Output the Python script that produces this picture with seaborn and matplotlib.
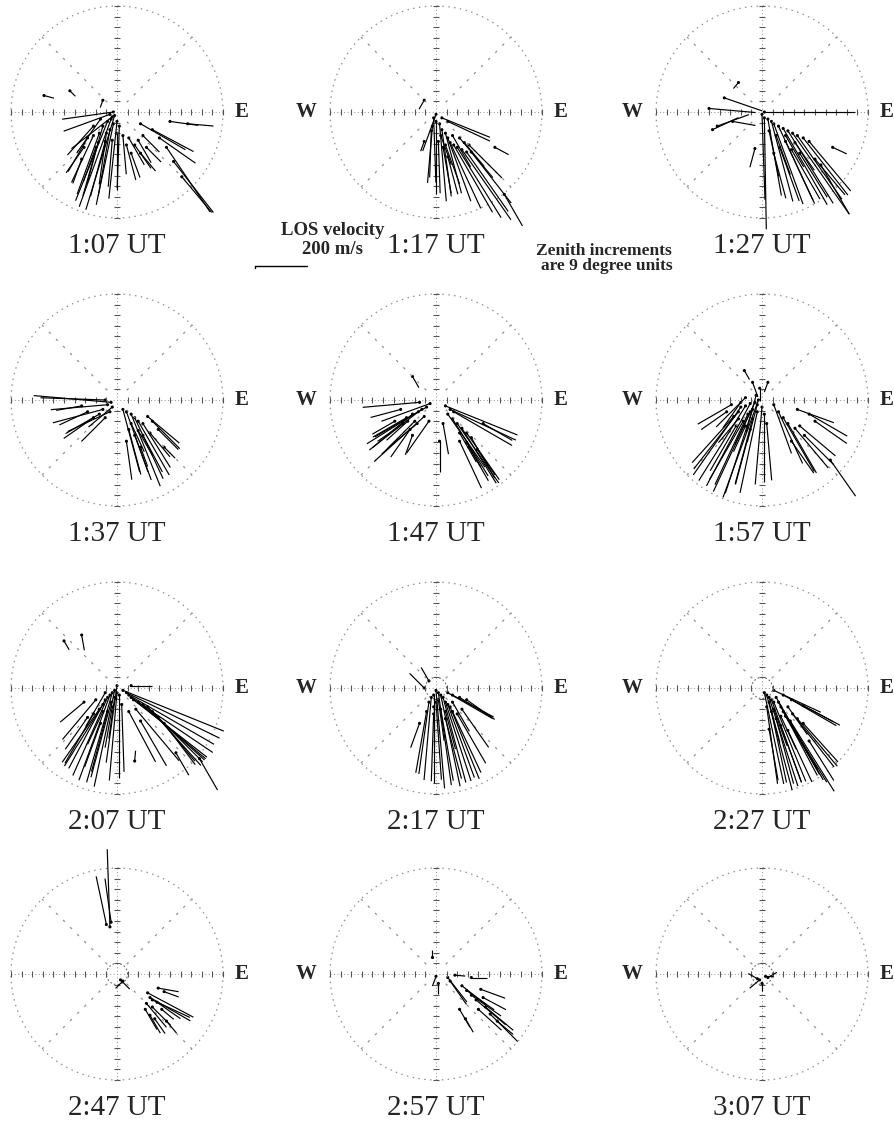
import numpy as np
import pandas as pd
import matplotlib
matplotlib.use("Agg")
import matplotlib.pyplot as plt
import seaborn as sns
from matplotlib.collections import LineCollection

# ---------------- data ----------------
# each vector: (x east [deg zenith], y north [deg zenith], LOS speed [m/s], bearing [deg from N, clockwise])
TIMES = ["1:07 UT", "1:17 UT", "1:27 UT",
         "1:37 UT", "1:47 UT", "1:57 UT",
         "2:07 UT", "2:17 UT", "2:27 UT",
         "2:47 UT", "2:57 UT", "3:07 UT"]

V0107 = [(-2, -3, 380, 197), (-5, -6, 360, 200), (-8, -8, 330, 202), (-3, -10, 320, 192),
         (0, -8, 300, 186), (-12, -12, 280, 196), (-15, -18, 250, 200), (-6, -15, 260, 190),
         (2, -12, 240, 182), (-20, -20, 200, 205), (-10, -25, 220, 195), (-25, -22, 150, 210),
         (-4, -4, 200, 232), (-6, -2, 190, 250), (-3, 0, 200, 262), (-18, -30, 140, 200),
         (-28, -30, 120, 215), (5, -20, 150, 175), (8, -28, 140, 165), (-30, -40, 100, 200),
         (10, -22, 120, 150), (15, -28, 110, 145), (20, -35, 90, 140), (25, -30, 80, 135),
         (12, -35, 100, 160), (20, -10, 200, 120), (30, -15, 180, 118), (36, -22, 170, 125),
         (42, -30, 300, 146), (48, -42, 250, 142), (55, -55, 180, 140), (45, -8, 110, 98),
         (60, -10, 100, 95), (-62, 14, 40, 105), (-40, 18, 30, 135), (-12, 10, 30, 200),
         (-14, -6, 160, 215), (-9, -18, 200, 188), (-20, -12, 150, 222), (0, -18, 220, 180),
         (-4, -24, 180, 185), (-16, -26, 160, 195), (18, -24, 100, 150), (22, -20, 90, 135)]

V0117 = [(0, -2, 150, 200), (-2, -5, 250, 178), (0, -8, 280, 180), (3, -10, 300, 175),
         (5, -15, 260, 172), (-3, -12, 220, 185), (8, -18, 240, 165), (10, -22, 260, 160),
         (12, -26, 280, 155), (15, -28, 300, 150), (18, -30, 320, 148), (22, -32, 330, 145),
         (26, -34, 280, 145), (30, -34, 250, 142), (20, -22, 200, 140), (28, -28, 180, 135),
         (6, -30, 180, 170), (10, -38, 150, 165), (2, -25, 200, 178), (5, -5, 200, 112),
         (10, -8, 180, 115), (50, -30, 60, 118), (58, -70, 140, 150), (-10, -25, 40, 200),
         (-10, 10, 40, 210), (4, -20, 120, 160), (14, -20, 140, 150), (24, -26, 120, 140),
         (-4, -16, 180, 182), (8, -28, 160, 160)]

V0127 = [(0, -2, 330, 178), (2, -5, 430, 179), (5, -6, 300, 170), (8, -8, 320, 165),
         (10, -10, 330, 160), (14, -12, 330, 155), (18, -14, 340, 150), (22, -16, 330, 148),
         (26, -18, 380, 145), (30, -20, 300, 145), (35, -22, 280, 142), (40, -25, 250, 140),
         (20, -25, 250, 155), (15, -30, 220, 160), (25, -32, 220, 150), (32, -35, 200, 148),
         (10, -35, 180, 165), (45, -40, 180, 140), (50, -45, 220, 150), (60, -30, 60, 115),
         (2, 0, 350, 90), (-32, 12, 155, 109), (-45, 3, 180, 95), (-38, -12, 130, 70),
         (-42, -15, 110, 65), (-25, -8, 90, 100), (-6, -31, 75, 195), (-20, 25, 30, 220),
         (12, -20, 160, 160), (20, -20, 140, 150), (28, -26, 130, 145), (6, -16, 180, 168)]

V0137 = [(-5, -2, 300, 275), (-10, 0, 250, 272), (-8, -4, 220, 265), (-12, -8, 200, 255),
         (-6, -10, 180, 245), (-15, -12, 150, 240), (-20, -15, 140, 235), (-25, -10, 120, 245),
         (-10, -15, 130, 225), (-30, -5, 100, 260), (-4, -6, 120, 230),
         (5, -8, 250, 165), (8, -10, 280, 160), (12, -12, 300, 158), (15, -15, 260, 155),
         (18, -18, 240, 150), (22, -20, 200, 148), (26, -14, 160, 130), (30, -18, 150, 135),
         (10, -25, 180, 165), (15, -30, 150, 160), (22, -30, 160, 152), (28, -28, 120, 140),
         (35, -25, 110, 135), (8, -35, 150, 172), (20, -40, 80, 160), (40, -40, 60, 135),
         (12, -20, 120, 155), (18, -26, 110, 150)]

V0147 = [(-5, -3, 200, 250), (-8, -6, 230, 240), (-12, -8, 250, 238), (-15, -10, 240, 232),
         (-20, -12, 200, 230), (-10, -14, 260, 228), (-18, -18, 180, 225), (-25, -15, 150, 240),
         (-28, -20, 120, 235), (-22, -25, 130, 215), (-35, -18, 100, 240), (-6, -18, 150, 215),
         (-14, -2, 220, 265), (-30, -8, 120, 255), (-20, -30, 80, 200),
         (8, -5, 300, 112), (12, -8, 280, 115), (15, -10, 260, 120), (10, -12, 250, 145),
         (14, -16, 260, 148), (18, -20, 280, 145), (22, -24, 250, 148), (26, -28, 220, 145),
         (30, -32, 180, 150), (20, -35, 200, 155), (28, -40, 150, 150), (35, -42, 120, 145),
         (40, -20, 130, 120), (6, -20, 120, 170), (3, -35, 120, 180), (-20, 20, 50, 150),
         (-16, -20, 140, 230), (-24, -18, 110, 228), (20, -28, 130, 150), (26, -36, 110, 150)]

V0157 = [(-3, 0, 400, 200), (-6, -2, 380, 205), (-10, -3, 360, 208), (-14, -5, 340, 212),
         (-18, -6, 320, 215), (-8, -8, 340, 198), (-4, -10, 320, 192), (0, -6, 300, 185),
         (-12, -12, 300, 205), (-20, -10, 280, 218), (-24, -14, 240, 222), (-16, -18, 260, 210),
         (-8, -16, 260, 195), (2, -12, 260, 180), (4, -20, 220, 175), (-26, -4, 150, 240),
         (-22, -22, 200, 210), (-10, -25, 220, 195), (-30, -10, 120, 235), (-5, 4, 150, 195),
         (-14, 2, 160, 225), (10, -4, 200, 160), (14, -10, 220, 155), (18, -15, 240, 150),
         (22, -20, 220, 150), (28, -24, 200, 140), (32, -22, 180, 130), (36, -30, 160, 135),
         (40, -12, 170, 120), (45, -18, 150, 125), (30, -8, 150, 110), (25, -35, 150, 145),
         (58, -51, 170, 145), (-8, 15, 60, 160), (-15, 25, 40, 150), (-2, 10, 50, 180),
         (5, 15, 40, 200), (-18, -2, 120, 215), (-10, -10, 140, 205), (-4, -4, 150, 195),
         (-20, -16, 120, 220), (-14, -22, 110, 205)]

V0207 = [(-2, -2, 380, 192), (-4, -4, 360, 196), (-6, -6, 350, 200), (-8, -8, 330, 204),
         (0, -4, 340, 185), (2, -6, 320, 180), (-10, -10, 300, 208), (-12, -14, 280, 212),
         (-5, -12, 300, 195), (-15, -18, 250, 215), (-18, -10, 200, 220), (-20, -22, 220, 210),
         (-8, -20, 240, 195), (4, -14, 260, 178), (-25, -25, 150, 215), (-14, -30, 180, 200),
         (-28, -12, 120, 230), (0, 2, 300, 188),
         (5, -2, 420, 112), (8, -4, 400, 116), (10, -6, 380, 120), (12, -8, 380, 124),
         (14, -10, 360, 128), (18, -12, 340, 130), (22, -14, 320, 132), (26, -16, 300, 135),
         (30, -20, 280, 138), (16, -18, 260, 140), (35, -25, 220, 140), (40, -30, 200, 143),
         (10, -20, 220, 152), (20, -28, 200, 150), (70, -60, 140, 150), (50, -55, 100, 150),
         (15, -62, 40, 5), (-30, 45, 60, 170), (-45, 40, 40, 150), (12, 2, 80, 90),
         (-10, -4, 150, 210), (-4, -16, 160, 190), (-12, -20, 140, 205), (-2, -8, 160, 188)]

V0217 = [(0, -2, 380, 175), (2, -4, 360, 172), (4, -6, 360, 168), (6, -8, 340, 165),
         (-2, -6, 340, 180), (-4, -8, 320, 185), (8, -12, 320, 162), (10, -14, 300, 160),
         (12, -16, 300, 158), (-6, -12, 280, 188), (0, -12, 300, 176), (4, -18, 280, 170),
         (14, -20, 260, 155), (18, -22, 220, 150), (-8, -20, 240, 190), (-2, -22, 260, 182),
         (8, -26, 240, 165), (22, -18, 180, 145), (10, -4, 200, 120), (14, -6, 180, 118),
         (20, -8, 160, 122), (26, -10, 120, 125), (-10, 0, 80, 315), (-6, 6, 60, 330),
         (-14, -30, 100, 200), (2, -10, 160, 172), (8, -20, 150, 165), (-2, -16, 150, 180),
         (14, -12, 130, 150)]

V0227 = [(2, -4, 360, 168), (4, -6, 380, 165), (6, -8, 360, 162), (8, -10, 340, 160),
         (10, -12, 330, 158), (12, -8, 320, 150), (14, -12, 300, 150), (16, -16, 300, 152),
         (18, -20, 280, 150), (20, -24, 300, 148), (24, -28, 320, 148), (26, -22, 260, 142),
         (30, -26, 240, 140), (4, -16, 300, 172), (8, -20, 280, 168), (12, -26, 260, 165),
         (16, -32, 230, 160), (22, -36, 220, 155), (30, -40, 200, 150), (35, -30, 200, 138),
         (40, -45, 180, 148), (10, -2, 200, 115), (18, -6, 220, 118), (25, -10, 200, 120),
         (35, -15, 160, 118), (6, -35, 200, 170), (10, -18, 150, 160), (16, -24, 140, 155),
         (6, -12, 160, 165), (22, -16, 130, 145)]

V0247 = [(-6, 40, 300, 358), (-9, 42, 190, 348), (-5, 44, 170, 352),
         (26, -16, 200, 118), (28, -20, 180, 120), (30, -22, 160, 115), (25, -25, 120, 140),
         (30, -28, 100, 135), (24, -30, 90, 150), (34, -24, 110, 125), (28, -35, 80, 150),
         (32, -38, 70, 145), (38, -30, 60, 130), (35, -12, 80, 100), (40, -15, 60, 110),
         (42, -40, 60, 140), (3, -5, 50, 135), (5, -6, 40, 225)]

V0257 = [(10, -3, 120, 142), (12, -6, 110, 145), (22, -10, 120, 128), (26, -14, 130, 125),
         (30, -18, 140, 125), (34, -22, 150, 130), (38, -13, 100, 110), (40, -20, 100, 118),
         (36, -30, 120, 132), (42, -28, 140, 130), (46, -34, 150, 135), (52, -40, 80, 130),
         (20, -30, 80, 150), (25, -38, 60, 150), (0, -2, 40, 200), (2, -8, 40, 180),
         (-3, 14, 30, 0), (16, -1, 40, 95), (30, -3, 60, 90)]

V0307 = [(5, -3, 40, 60), (-2, -5, 50, 230), (0, -8, 30, 180), (-4, -4, 40, 300),
         (3, -2, 30, 90)]

PANEL_VECTORS = [V0107, V0117, V0127, V0137, V0147, V0157,
                 V0207, V0217, V0227, V0247, V0257, V0307]
SHOW_WEST = [False, True, True] * 4
INNER_RING = [False] * 7 + [True, True, True, False, True]

ZENITH_MAX = 90          # outer circle = 90 deg zenith
ZENITH_STEP = 9          # tick increments
SCALE_SPEED = 200        # m/s reference vector

# ---------------- style / layout ----------------
sns.set_theme(style="white")
plt.rcParams["font.family"] = ["Liberation Serif", "DejaVu Serif"]

W_PX, H_PX = 894, 1122
fig = plt.figure(figsize=(W_PX / 100, H_PX / 100), dpi=100)

COL_PX = [117, 436, 762]
ROW_PX = [112, 400, 688, 974]
PX_PER_UNIT = 106 / ZENITH_MAX
HALF_PX = 142
LIM = HALF_PX / PX_PER_UNIT
K = 44 / SCALE_SPEED     # deg-units per m/s

grid_col = "#909090"
tick_col = "#555555"

axes = []
for i, vecs in enumerate(PANEL_VECTORS):
    r, c = divmod(i, 3)
    cx, cy = COL_PX[c], ROW_PX[r]
    ax = fig.add_axes([(cx - HALF_PX) / W_PX, 1 - (cy + HALF_PX) / H_PX,
                       2 * HALF_PX / W_PX, 2 * HALF_PX / H_PX])
    ax.set_xlim(-LIM, LIM)
    ax.set_ylim(-LIM, LIM)
    ax.axis("off")
    axes.append(ax)

    # outer circle
    t = np.linspace(0, 2 * np.pi, 400)
    ax.plot(ZENITH_MAX * np.cos(t), ZENITH_MAX * np.sin(t), color=grid_col,
            lw=0.9, ls=(0, (1.2, 3.5)))
    if INNER_RING[i]:
        ax.plot(ZENITH_STEP * np.cos(t), ZENITH_STEP * np.sin(t), color="#666666",
                lw=0.8, ls=(0, (1.5, 2)))
    # main axes with ticks
    ticks = np.arange(-ZENITH_MAX, ZENITH_MAX + 1, ZENITH_STEP)
    ticks = ticks[ticks != 0]
    ax.plot([-ZENITH_MAX, ZENITH_MAX], [0, 0], color=grid_col, lw=0.7, ls=(0, (1, 2.5)))
    ax.plot([0, 0], [-ZENITH_MAX, ZENITH_MAX], color=grid_col, lw=0.7, ls=(0, (1, 2.5)))
    ax.plot(ticks, np.zeros_like(ticks), ls="none", marker="|", ms=4.5, mew=0.8, color=tick_col)
    ax.plot(np.zeros_like(ticks), ticks, ls="none", marker="_", ms=4.5, mew=0.8, color=tick_col)
    # diagonals
    for ang in (45, 135, 225, 315):
        rr = np.array([ZENITH_STEP * 1.3, ZENITH_MAX])
        a = np.deg2rad(ang)
        ax.plot(rr * np.cos(a), rr * np.sin(a), color=grid_col, lw=0.9, ls=(0, (2, 6)))

    # vectors
    df = pd.DataFrame(vecs, columns=["x", "y", "speed", "bearing"])
    b = np.deg2rad(df["bearing"].to_numpy())
    df["x1"] = df["x"] + K * df["speed"] * np.sin(b)
    df["y1"] = df["y"] + K * df["speed"] * np.cos(b)
    segs = np.stack([df[["x", "y"]].to_numpy(), df[["x1", "y1"]].to_numpy()], axis=1)
    ax.add_collection(LineCollection(segs, colors="black", linewidths=0.85))
    sns.scatterplot(data=df, x="x", y="y", ax=ax, color="black", s=5,
                    edgecolor="none", legend=False)
    ax.set_xlabel("")
    ax.set_ylabel("")

    # direction labels and time title
    ax.text(106, 0, "E", fontsize=15, fontweight="bold", ha="center", va="center")
    if SHOW_WEST[i]:
        ax.text(-110, 0, "W", fontsize=15, fontweight="bold", ha="center", va="center")
    ax.text(0, -114, TIMES[i], fontsize=21, ha="center", va="center")

# velocity scale bar (drawn in the data units of the first panel)
ax0 = axes[0]
bar_x0, bar_y = 117, -131
ax0.plot([bar_x0, bar_x0 + K * SCALE_SPEED], [bar_y, bar_y], color="black", lw=1.0,
         clip_on=False)
ax0.plot([bar_x0, bar_x0], [bar_y, bar_y - 1.5], color="black", lw=1.0, clip_on=False)

fig.text(333 / W_PX, 1 - 231 / H_PX, "LOS velocity", fontsize=13.5, fontweight="bold",
         ha="center", va="center")
fig.text(333 / W_PX, 1 - 250 / H_PX, "200 m/s", fontsize=13.5, fontweight="bold",
         ha="center", va="center")
fig.text(604 / W_PX, 1 - 251 / H_PX, "Zenith increments", fontsize=12.5, fontweight="bold",
         ha="center", va="center")
fig.text(607 / W_PX, 1 - 266 / H_PX, "are 9 degree units", fontsize=12.5, fontweight="bold",
         ha="center", va="center")

fig.savefig("out.png", dpi=100, facecolor="white")
